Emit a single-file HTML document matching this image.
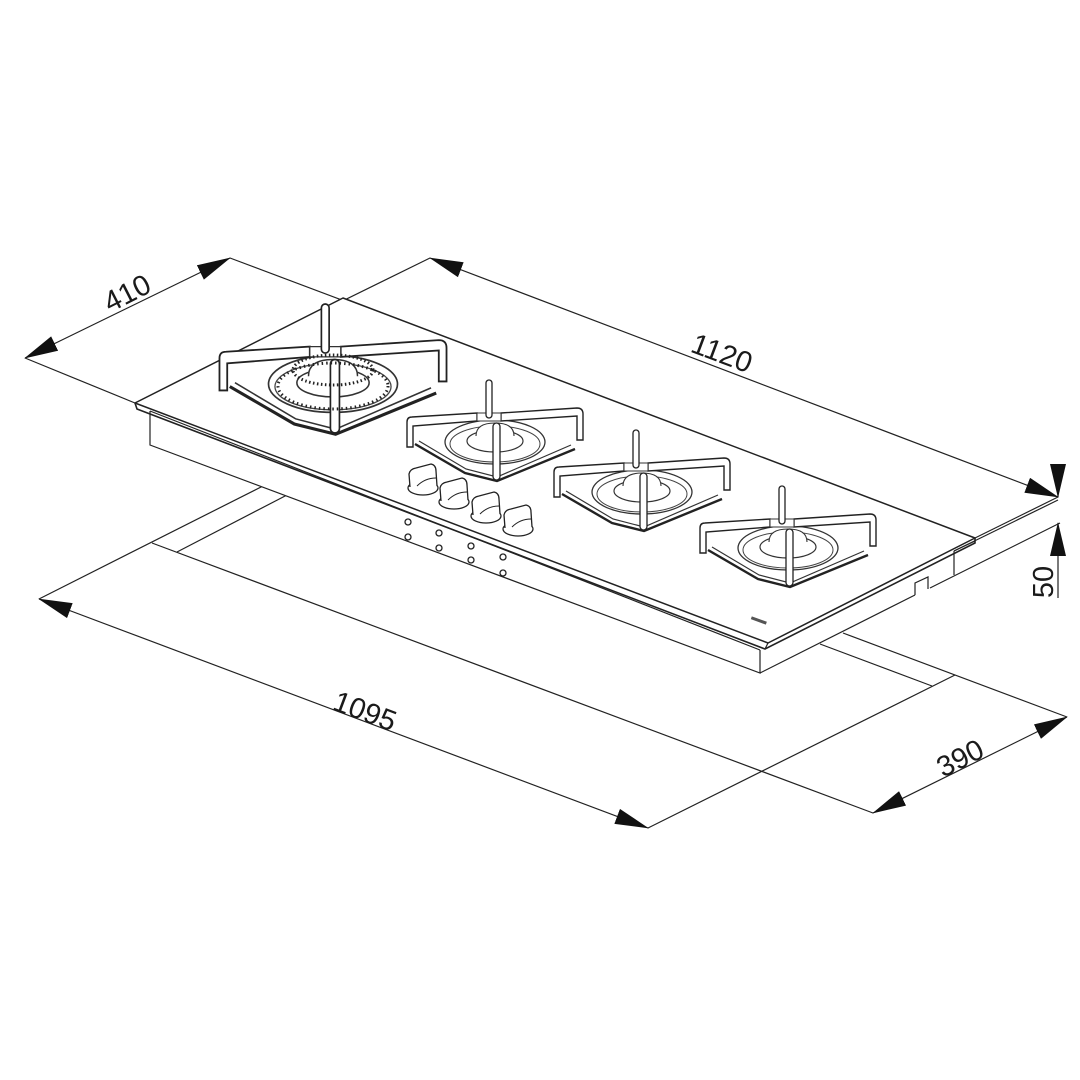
<!DOCTYPE html>
<html><head><meta charset="utf-8"><style>html,body{margin:0;padding:0;background:#fff}svg{display:block}text{font-family:"Liberation Sans",sans-serif;font-size:29px;fill:#1a1a1a}</style></head>
<body>
<svg width="1080" height="1080" viewBox="0 0 1080 1080" xmlns="http://www.w3.org/2000/svg">
<defs>
<marker id="ar" markerUnits="userSpaceOnUse" markerWidth="34" markerHeight="16" viewBox="0 0 34 16" refX="33" refY="8" orient="auto-start-reverse">
<path d="M0,0 L34,8 L0,16 Z" fill="#111"/>
</marker>
<g id="burner">
  <path d="M-80,2 L-30,31 L2,39 L80,7" fill="none" stroke="#222" stroke-width="2.4"/>
  <path d="M-76,-1 L-29,27 L2,35 L76,3" fill="none" stroke="#333" stroke-width="1.2"/>
  <ellipse cx="0" cy="0" rx="50" ry="22" fill="#fff" stroke="#333" stroke-width="1.3"/>
  <ellipse cx="0" cy="2" rx="45" ry="18" fill="none" stroke="#444" stroke-width="1"/>
  <ellipse cx="0" cy="-1" rx="28" ry="11" fill="#fff" stroke="#333" stroke-width="1.2"/>
  <path d="M-19,-6 Q-19,-19 0,-19 Q19,-19 19,-6" fill="#fff" stroke="#333" stroke-width="1.1"/>
  <path d="M-88,-20 Q-88,-25 -83,-25 L-18,-29 L-18,-21 L-82,-16 L-82,5 L-88,5 Z" fill="#fff" stroke="#222" stroke-width="1.4"/>
  <path d="M6,-29 L82,-34 Q88,-34 88,-28 L88,-2 L82,-2 L82,-26 L6,-21 Z" fill="#fff" stroke="#222" stroke-width="1.4"/>
  <path d="M-18,-29 L6,-29 L6,-21 L-18,-21 Z" fill="#fff" stroke="#333" stroke-width="1"/>
  <rect x="-9" y="-62" width="6" height="38" rx="3" fill="#fff" stroke="#222" stroke-width="1.3"/>
  <rect x="-2" y="-19" width="7" height="57" rx="3.5" fill="#fff" stroke="#222" stroke-width="1.3"/>
</g>
<g id="knob">
  <ellipse cx="0" cy="8" rx="15" ry="7" fill="#fff" stroke="#222" stroke-width="1.3"/>
  <path d="M-13,7 L-14,-6 Q-13,-11 -7,-12 L8,-16 Q13,-15 13,-9 L14,6" fill="#fff" stroke="#222" stroke-width="1.3"/>
  <path d="M-6,6 Q2,-2 13,-2" fill="none" stroke="#222" stroke-width="1"/>
</g>
</defs>
<g stroke="#222" stroke-width="1.2" fill="none">
<line x1="25" y1="358" x2="230" y2="258" marker-start="url(#ar)" marker-end="url(#ar)"/>
<line x1="25" y1="358" x2="135" y2="403"/>
<line x1="230" y1="258" x2="975" y2="538"/>
<line x1="430" y1="258" x2="1058" y2="497" marker-start="url(#ar)" marker-end="url(#ar)"/>
<line x1="430" y1="258" x2="135" y2="403"/>
<line x1="975" y1="538" x2="1058" y2="497"/>
<line x1="1058" y1="468" x2="1058" y2="497" marker-end="url(#ar)"/>
<line x1="1058" y1="598" x2="1058" y2="523" marker-end="url(#ar)"/>
<line x1="930" y1="588" x2="1060" y2="523"/>
<line x1="39" y1="599" x2="263" y2="486"/>
<line x1="177" y1="552" x2="287" y2="495"/>
<line x1="152" y1="543" x2="873" y2="813"/>
<line x1="648" y1="828" x2="955" y2="675"/>
<line x1="843" y1="633" x2="1067" y2="717"/>
<line x1="820" y1="644" x2="932" y2="686"/>
<line x1="39" y1="599" x2="648" y2="828" marker-start="url(#ar)" marker-end="url(#ar)"/>
<line x1="873" y1="813" x2="1067" y2="717" marker-start="url(#ar)" marker-end="url(#ar)"/>
<path d="M150,411 L150,445 L760,673 L760,650" fill="#fff"/>
<line x1="760" y1="673" x2="915" y2="595"/>
<path d="M915,595 L915,583 L928,577 L928,589"/>
<line x1="954" y1="551" x2="954" y2="575"/>
<line x1="954" y1="551" x2="975" y2="541"/>
<line x1="954" y1="551" x2="1058" y2="500"/>
<line x1="150" y1="411" x2="760" y2="650"/>
</g>
<path d="M135,403 L343,298 L975,538 L768,643 Z" fill="#fff" stroke="#222" stroke-width="1.5" stroke-linejoin="round"/>
<path d="M135,403 L137,409 L765,649 L975,543 L975,538" fill="none" stroke="#222" stroke-width="1.6"/>
<line x1="768" y1="643" x2="765" y2="649" stroke="#222" stroke-width="1.2"/>
<use href="#burner" transform="translate(333,384) scale(1.29)"/>
<ellipse cx="333" cy="386" rx="55" ry="23" fill="none" stroke="#222" stroke-width="3" stroke-dasharray="1.5 3"/>
<ellipse cx="333" cy="370" rx="40" ry="15" fill="none" stroke="#222" stroke-width="3" stroke-dasharray="1.5 2.5"/>
<use href="#burner" transform="translate(495,442)"/>
<use href="#burner" transform="translate(642,492)"/>
<use href="#burner" transform="translate(788,548)"/>
<use href="#knob" transform="translate(423,480)"/>
<use href="#knob" transform="translate(454,494)"/>
<use href="#knob" transform="translate(486,508)"/>
<use href="#knob" transform="translate(518,521)"/>
<g fill="#fff" stroke="#222" stroke-width="1.3">
<circle cx="408" cy="522" r="3"/><circle cx="408" cy="537" r="3"/>
<circle cx="439" cy="533" r="3"/><circle cx="439" cy="548" r="3"/>
<circle cx="471" cy="546" r="3"/><circle cx="471" cy="560" r="3"/>
<circle cx="503" cy="557" r="3"/><circle cx="503" cy="573" r="3"/>
</g>
<rect x="751" y="619" width="16" height="3" fill="#555" transform="rotate(20 759 620)"/>
<text x="127" y="303" text-anchor="middle" transform="rotate(-27 127 293)">410</text>
<text x="722" y="363" text-anchor="middle" transform="rotate(20.6 722 353)">1120</text>
<text x="365" y="721" text-anchor="middle" transform="rotate(20.6 365 711)">1095</text>
<text x="960" y="768" text-anchor="middle" transform="rotate(-27 960 758)">390</text>
<text x="1043" y="592" text-anchor="middle" transform="rotate(-90 1043 582)">50</text>
</svg>
</body></html>
